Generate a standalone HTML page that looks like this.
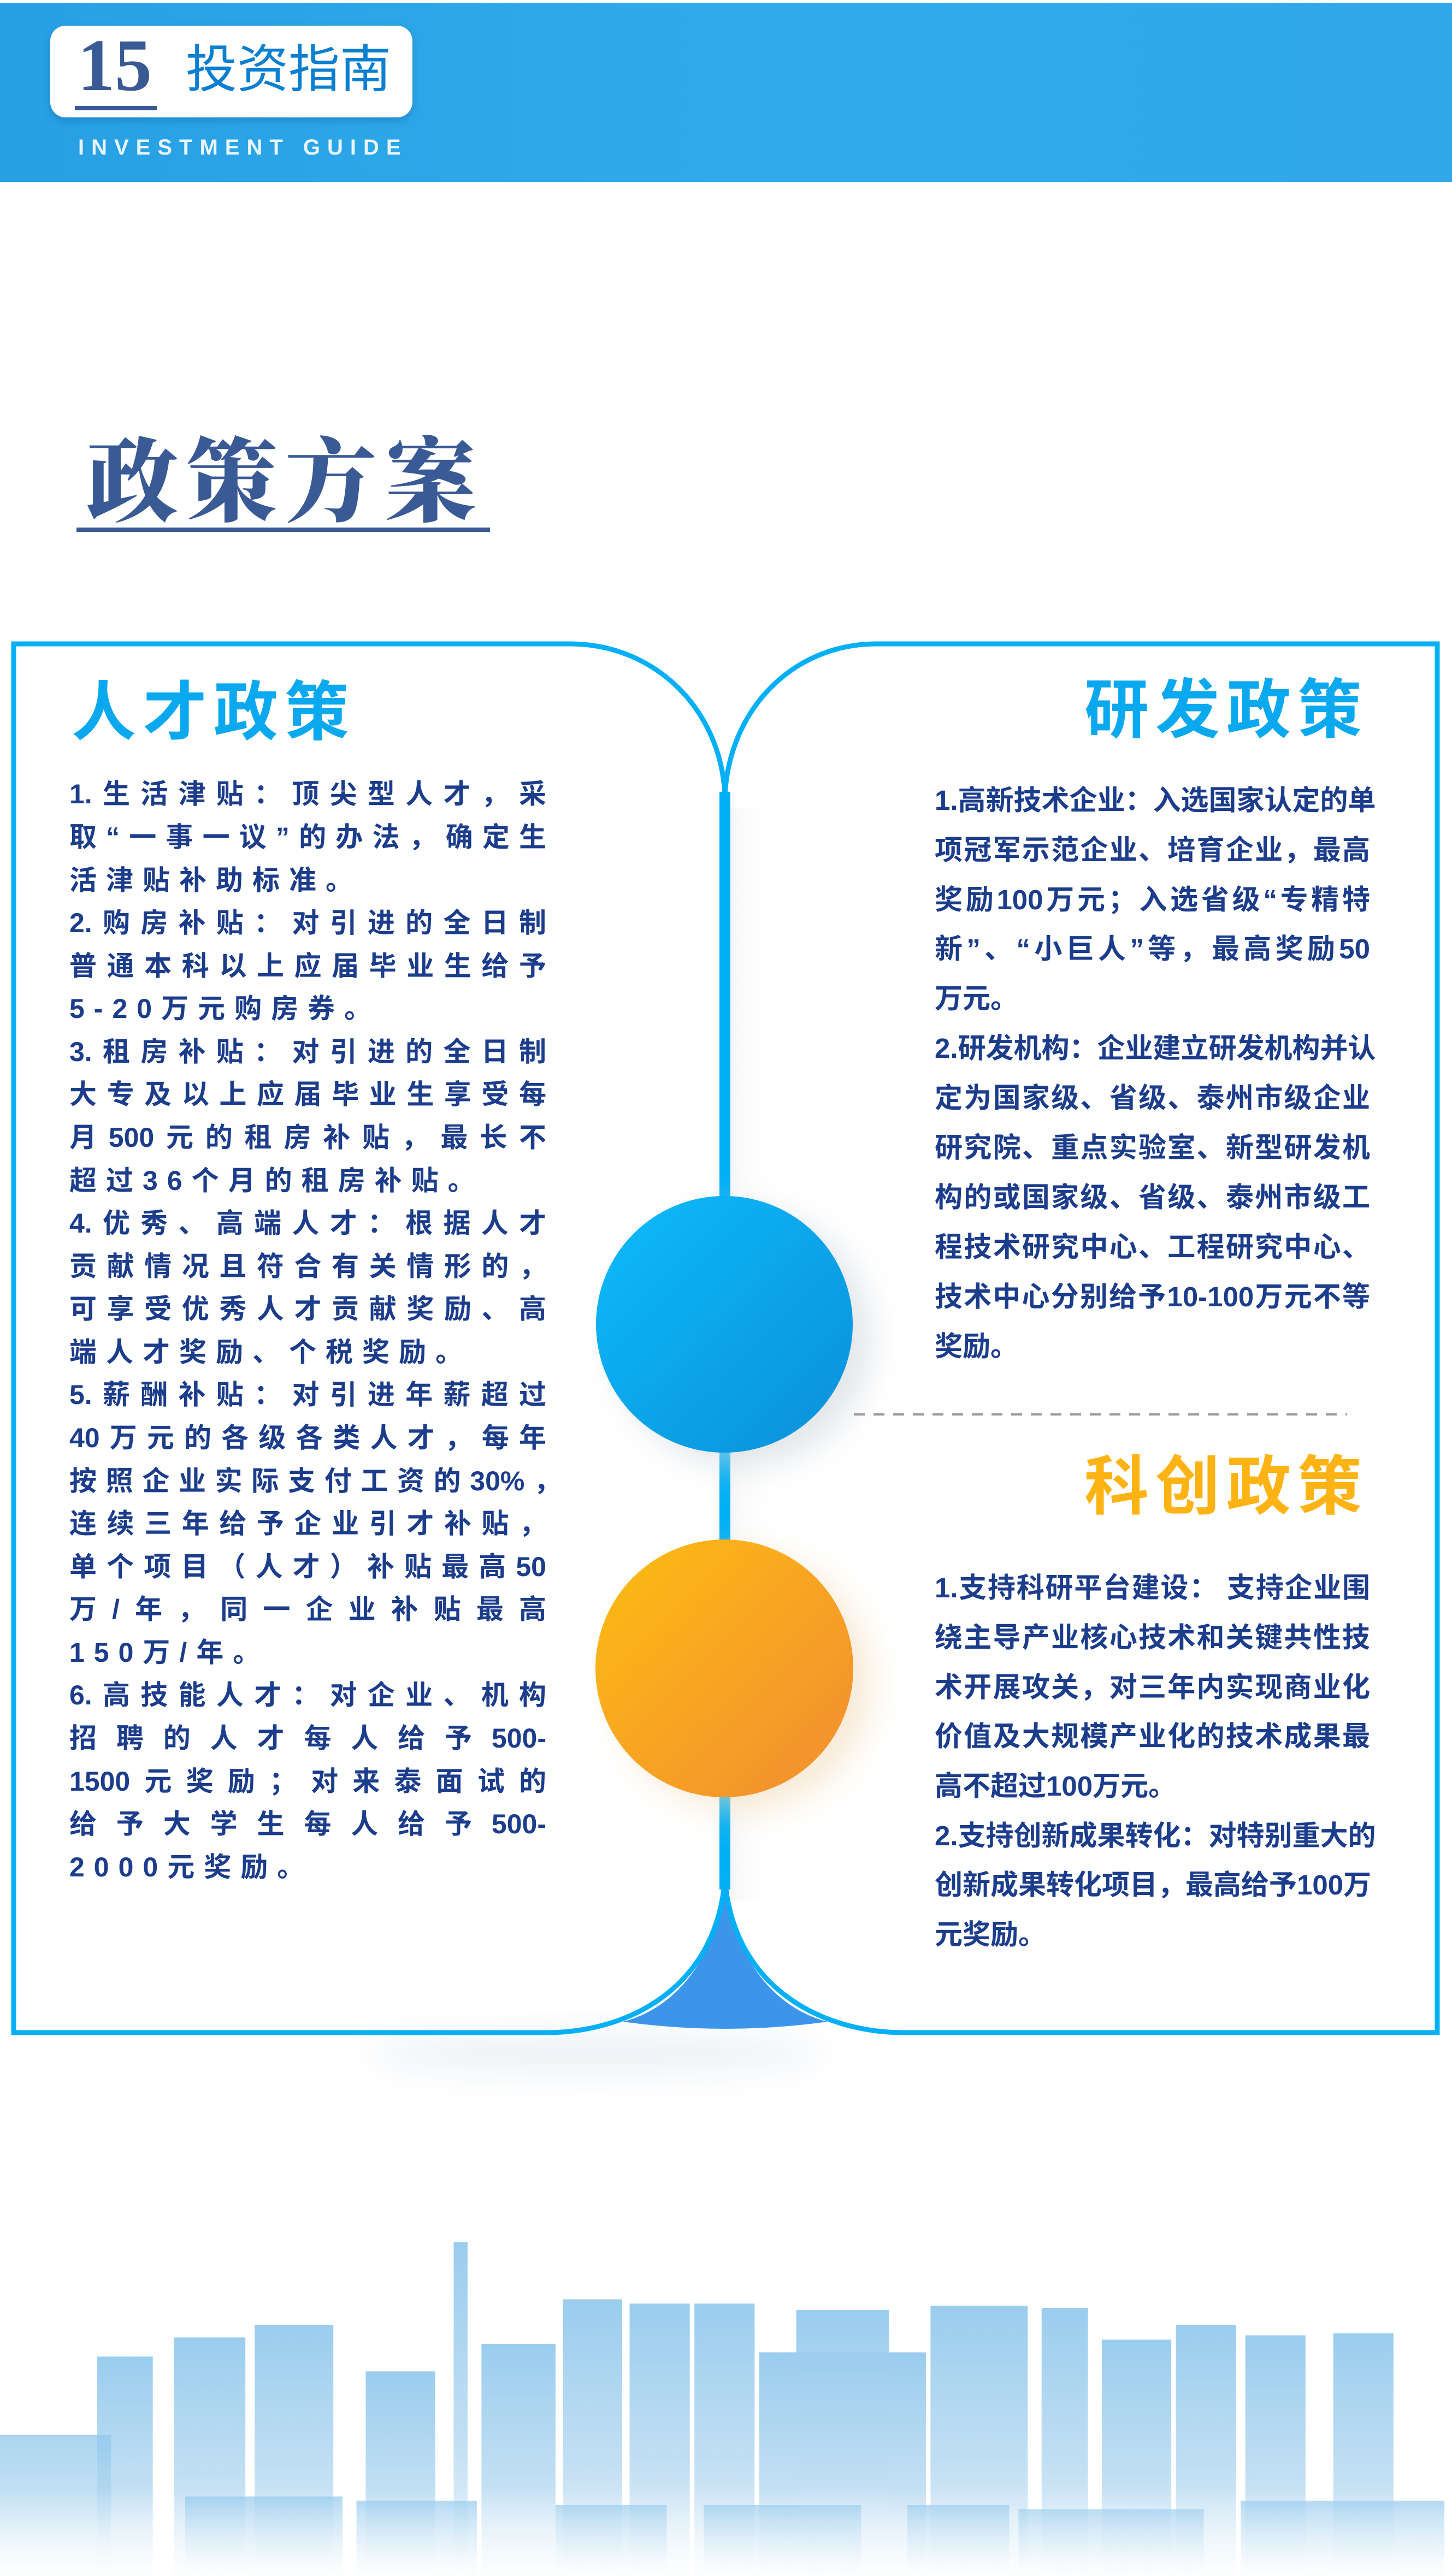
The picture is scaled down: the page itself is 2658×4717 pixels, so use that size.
<!DOCTYPE html>
<html><head><meta charset="utf-8">
<style>
html,body{margin:0;padding:0;background:#fff;}
#page{position:relative;width:2658px;height:4717px;overflow:hidden;background:#fff;font-family:"Liberation Sans","Noto Sans CJK SC",sans-serif;}
.abs{position:absolute;}
.lt{position:absolute;left:127px;width:873px;height:79px;line-height:79px;font-size:50px;font-weight:700;color:#1c3d8c;letter-spacing:17px;white-space:nowrap;}
.lt.j{text-align:justify;text-align-last:justify;letter-spacing:0;}
.rt{position:absolute;left:1711px;width:797px;height:91px;line-height:91px;font-size:51px;font-weight:700;color:#1c3d8c;white-space:nowrap;}
.rt.j{text-align:justify;text-align-last:justify;}
.h{position:absolute;font-size:118px;font-weight:700;letter-spacing:12px;line-height:1;white-space:nowrap;}
</style></head>
<body>
<div id="page">

<div class="abs" style="left:0;top:5px;width:2658px;height:328px;background:linear-gradient(90deg,#27a0e4,#2fabea 50%,#31a8e8);"></div>
<div class="abs" style="left:92px;top:47px;width:663px;height:168px;background:#fff;border-radius:28px;box-shadow:0 6px 14px rgba(0,60,120,0.25);"></div>
<div class="abs" style="left:142px;top:52px;font-family:'Liberation Serif',serif;font-weight:700;font-size:136px;line-height:136px;color:#3a5a96;">15</div>
<div class="abs" style="left:137px;top:194px;width:150px;height:8px;background:#3a5a96;"></div>
<div class="abs" style="left:340px;top:72px;font-size:94px;line-height:110px;color:#0a7fd0;font-family:'Liberation Sans','Noto Sans CJK SC',sans-serif;">投资指南</div>
<div class="abs" style="left:143px;top:246px;font-size:40px;line-height:48px;color:#eaf6ff;font-weight:700;letter-spacing:13px;">INVESTMENT GUIDE</div>

<div class="abs" style="left:158px;top:775px;font-family:'Noto Serif CJK SC',serif;font-weight:900;font-size:168px;line-height:190px;color:#3a5a96;letter-spacing:14px;">政策方案</div>
<div class="abs" style="left:140px;top:966px;width:757px;height:8px;background:#3a5a96;"></div>

<svg class="abs" style="left:0;top:0" width="2658" height="4717">
<defs>
<filter id="blur" x="-50%" y="-50%" width="200%" height="200%"><feGaussianBlur stdDeviation="30"/></filter>
<linearGradient id="gb" x1="0" y1="0" x2="1" y2="1"><stop offset="0" stop-color="#0cbcfc"/><stop offset="1" stop-color="#0b8fd9"/></linearGradient>
<linearGradient id="go" x1="0" y1="0" x2="1" y2="1"><stop offset="0" stop-color="#fdbd12"/><stop offset="1" stop-color="#f28c32"/></linearGradient>
<linearGradient id="gs" x1="0" y1="0" x2="1" y2="0"><stop offset="0" stop-color="#efefef"/><stop offset="1" stop-color="#ffffff" stop-opacity="0"/></linearGradient>
</defs>
<rect x="1337" y="1480" width="90" height="2000" fill="url(#gs)" opacity="0.5"/>
<ellipse cx="1090" cy="3760" rx="420" ry="40" fill="#eef2f6" filter="url(#blur)"/>
<path d="M1000,3722 H25 V1179 H1045 C1200,1180 1320,1300 1327,1456" fill="none" stroke="#04b0f5" stroke-width="9"/>
<path d="M1650,3722 H2631 V1179 H1603 C1450,1180 1335,1300 1327,1456" fill="none" stroke="#04b0f5" stroke-width="9"/>
<line x1="1327" y1="1450" x2="1327" y2="3460" stroke="#04b0f5" stroke-width="20"/>
<path d="M1327,3430 C1318,3590 1230,3680 1140,3702 Q1327,3728 1515,3702 C1425,3680 1336,3590 1327,3430 Z" fill="#3d95ea"/>
<path d="M1000,3722 C1150,3722 1312,3640 1327,3440" fill="none" stroke="#04b0f5" stroke-width="9"/>
<path d="M1655,3722 C1505,3722 1342,3640 1327,3440" fill="none" stroke="#04b0f5" stroke-width="9"/>
<circle cx="1360" cy="2450" r="235" fill="#cfd6dd" filter="url(#blur)" opacity="0.6"/>
<circle cx="1360" cy="3080" r="235" fill="#f3dcb9" filter="url(#blur)" opacity="0.6"/>
<circle cx="1326" cy="2425" r="235" fill="url(#gb)"/>
<circle cx="1326" cy="3055" r="236" fill="url(#go)"/>
<line x1="1563" y1="2590" x2="2466" y2="2590" stroke="#9a9a9a" stroke-width="4" stroke-dasharray="20 16"/>
</svg>

<div class="h" style="left:131px;top:1246px;color:#0aa8ee;">人才政策</div>
<div class="h" style="left:1985px;top:1242px;color:#0aa8ee;">研发政策</div>
<div class="h" style="left:1985px;top:2664px;color:#fdb313;">科创政策</div>

<div id="leftText">
<div class="lt j" style="top:1415px">1.生活津贴：顶尖型人才，采</div>
<div class="lt j" style="top:1494px">取“一事一议”的办法，确定生</div>
<div class="lt" style="top:1573px">活津贴补助标准。</div>
<div class="lt j" style="top:1651px">2.购房补贴：对引进的全日制</div>
<div class="lt j" style="top:1730px">普通本科以上应届毕业生给予</div>
<div class="lt" style="top:1808px">5-20万元购房券。</div>
<div class="lt j" style="top:1887px">3.租房补贴：对引进的全日制</div>
<div class="lt j" style="top:1965px">大专及以上应届毕业生享受每</div>
<div class="lt j" style="top:2044px">月500元的租房补贴，最长不</div>
<div class="lt" style="top:2123px">超过36个月的租房补贴。</div>
<div class="lt j" style="top:2201px">4.优秀、高端人才：根据人才</div>
<div class="lt j" style="top:2280px">贡献情况且符合有关情形的，</div>
<div class="lt j" style="top:2358px">可享受优秀人才贡献奖励、高</div>
<div class="lt" style="top:2437px">端人才奖励、个税奖励。</div>
<div class="lt j" style="top:2515px">5.薪酬补贴：对引进年薪超过</div>
<div class="lt j" style="top:2594px">40万元的各级各类人才，每年</div>
<div class="lt j" style="top:2673px;width:900px">按照企业实际支付工资的30%，</div>
<div class="lt j" style="top:2751px">连续三年给予企业引才补贴，</div>
<div class="lt j" style="top:2830px">单个项目（人才）补贴最高50</div>
<div class="lt j" style="top:2908px">万/年，同一企业补贴最高</div>
<div class="lt" style="top:2987px">150万/年。</div>
<div class="lt j" style="top:3065px">6.高技能人才：对企业、机构</div>
<div class="lt j" style="top:3144px">招聘的人才每人给予500-</div>
<div class="lt j" style="top:3223px">1500元奖励；对来泰面试的</div>
<div class="lt j" style="top:3301px">给予大学生每人给予500-</div>
<div class="lt" style="top:3380px">2000元奖励。</div>
</div>

<div id="rdText">
<div class="rt j" style="top:1420px">1.高新技术企业：入选国家认定的单</div>
<div class="rt j" style="top:1511px">项冠军示范企业、培育企业，最高</div>
<div class="rt j" style="top:1602px">奖励100万元；入选省级“专精特</div>
<div class="rt j" style="top:1692px">新”、“小巨人”等，最高奖励50</div>
<div class="rt" style="top:1783px">万元。</div>
<div class="rt j" style="top:1874px">2.研发机构：企业建立研发机构并认</div>
<div class="rt j" style="top:1965px">定为国家级、省级、泰州市级企业</div>
<div class="rt j" style="top:2056px">研究院、重点实验室、新型研发机</div>
<div class="rt j" style="top:2147px">构的或国家级、省级、泰州市级工</div>
<div class="rt j" style="top:2238px">程技术研究中心、工程研究中心、</div>
<div class="rt j" style="top:2329px">技术中心分别给予10-100万元不等</div>
<div class="rt" style="top:2420px">奖励。</div>
</div>

<div id="innText">
<div class="rt j" style="top:2862px">1.支持科研平台建设： 支持企业围</div>
<div class="rt j" style="top:2953px">绕主导产业核心技术和关键共性技</div>
<div class="rt j" style="top:3044px">术开展攻关，对三年内实现商业化</div>
<div class="rt j" style="top:3134px">价值及大规模产业化的技术成果最</div>
<div class="rt" style="top:3225px">高不超过100万元。</div>
<div class="rt j" style="top:3316px">2.支持创新成果转化：对特别重大的</div>
<div class="rt j" style="top:3406px">创新成果转化项目，最高给予100万</div>
<div class="rt" style="top:3497px">元奖励。</div>
</div>

<svg id="sky" class="abs" style="left:0;top:0" width="2658" height="4717">
<defs>
<linearGradient id="gk" x1="0" y1="0" x2="0" y2="1"><stop offset="0" stop-color="#8fc7ec"/><stop offset="0.6" stop-color="#bcdcf2"/><stop offset="1" stop-color="#eef6fc"/></linearGradient>
</defs>
</svg>
<div class="abs" style="left:0;top:4560px;width:2658px;height:157px;background:linear-gradient(180deg,rgba(255,255,255,0),rgba(255,255,255,0.85));"></div>

<script>
// skyline building outlines (in zoom-space units: x0, x1, top)
const bx0 = [105,188,275,395,490,520,608,680,750,820,860,1005,1125,1190,1270,1345,1440,0,200,385,600,760,980,1100,1340];
const bx1 = [165,265,360,470,505,600,672,745,815,1000,960,1110,1175,1265,1335,1410,1505,120,370,515,720,930,1090,1300,1560];
const btop = [1050,1005,975,1085,780,1020,915,925,925,1040,940,930,935,1010,975,1000,995,1235,1380,1390,1400,1400,1400,1410,1390];
const sky = document.getElementById('sky');
for (let i = 0; i < bx0.length; i++) {
  const r = document.createElementNS('http://www.w3.org/2000/svg', 'rect');
  const x = bx0[i] / 0.59, w = (bx1[i] - bx0[i]) / 0.59, y = btop[i] / 1.288 + 3500;
  r.setAttribute('x', x); r.setAttribute('y', y);
  r.setAttribute('width', w); r.setAttribute('height', 4717 - y);
  r.setAttribute('fill', 'url(#gk)');
  r.setAttribute('opacity', i > 16 ? '0.75' : '0.9');
  
  
  sky.appendChild(r);
}
</script>
</div>
</body></html>
